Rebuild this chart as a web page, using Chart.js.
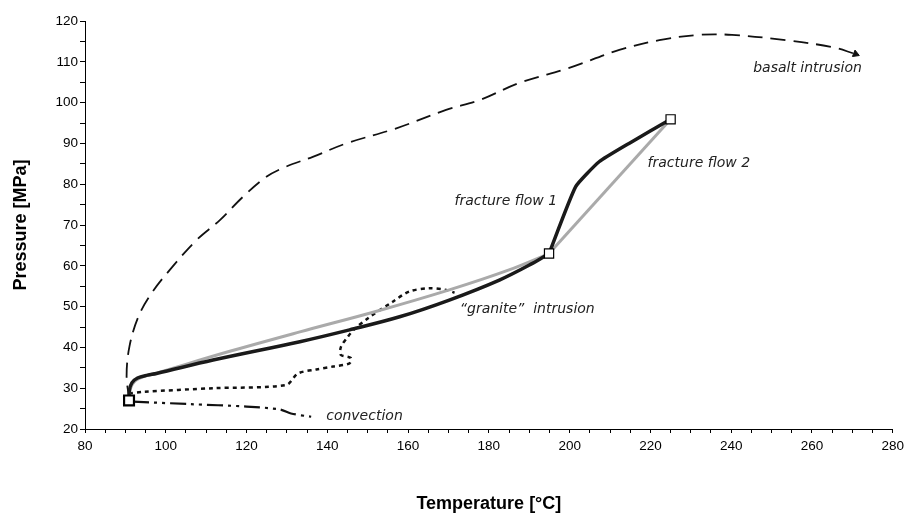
<!DOCTYPE html>
<html>
<head>
<meta charset="utf-8">
<script src="https://cdn.jsdelivr.net/npm/chart.js@4.4.1/dist/chart.umd.min.js"></script>
<style>
  html, body { margin: 0; padding: 0; background: #fff; }
  #wrap { width: 909px; height: 517px; }
</style>
</head>
<body>
<div id="wrap"><canvas id="chart"></canvas></div>
<script>
// --- data (temperature [°C], pressure [MPa]) ---
const basaltT = [91, 90.3, 91, 93.2, 96.5, 101, 107.6, 113.4, 119.1, 124.9, 129.8, 136.4, 144.7, 157.1, 169.4, 177.7, 187.5, 199.9, 212.3, 222.2, 232, 240.2, 253.5, 265, 270.8];
const basaltP = [27, 33, 40.2, 47.5, 53.3, 59, 66.3, 71.2, 76.9, 81.8, 84.3, 86.7, 90, 93.7, 98.2, 100.6, 104.8, 108.5, 112.9, 115.3, 116.6, 116.6, 115.3, 113.6, 111.9];

const graniteT = [90.9, 91.0, 91.6, 93, 95.5, 97.7, 111.7, 133.2, 145.5, 157.9, 170.2, 182.6, 190.8, 194.9];
const graniteP = [27, 29.5, 31.3, 32.5, 33.2, 33.6, 36.9, 41.4, 44.3, 47.5, 51.6, 56.5, 60.6, 63];

const flow1T = [194.9, 201.5, 207.3, 214.7, 225];
const flow1P = [63, 79.4, 85.5, 90, 95.9];

const grayT = [90.9, 91.2, 92.4, 95, 97.7, 115, 133.2, 152, 170.2, 185, 194.9];
const grayP = [27, 29.8, 31.8, 33, 33.7, 38.8, 43.8, 48.8, 54.1, 59, 63];
const flow2T = [194.9, 225];
const flow2P = [63, 95.9];

const dottedT = [90.9, 94.4, 111.7, 129.8, 132.7, 137.3, 141.4, 145.5, 145.8, 143.3, 143.4, 145, 146.5, 150, 156.2, 160.3, 165.3, 169.4, 171.5];
const dottedP = [28.7, 29.1, 30, 30.8, 33.6, 34.6, 35.3, 36.1, 37.4, 38.2, 40.2, 42.5, 44.3, 47.1, 51.2, 53.7, 54.5, 54.1, 53.4];

const convT = [91.9, 105.9, 120, 128.2, 131, 136];
const convP = [26.7, 26.1, 25.5, 24.8, 23.8, 23];

const markerT = [90.9, 194.9, 225];
const markerP = [27, 63, 95.9];

const labelText = ["basalt intrusion", "fracture flow 2", "fracture flow 1", "\u201Cgranite\u201D  intrusion", "convection"];
const labelT = [258.9, 232, 184.2, 189.5, 149.2];
const labelP = [108.5, 85.2, 75.7, 49.4, 23];

function pts(xs, ys) {
  return xs.map((x, i) => ({ x: x, y: ys[i] }));
}

// --- text labels in data coordinates ---
const labelPlugin = {
  id: "curveLabels",
  afterDatasetsDraw(chart) {
    const { ctx, scales } = chart;
    ctx.save();
    ctx.font = "italic 14px 'DejaVu Sans'";
    ctx.fillStyle = "#222";
    ctx.textAlign = "center";
    ctx.textBaseline = "middle";
    labelText.forEach((t, i) => {
      ctx.fillText(t, scales.x.getPixelForValue(labelT[i]), scales.y.getPixelForValue(labelP[i]));
    });
    ctx.restore();
  }
};

const axisFont = { family: "'Liberation Sans', Arial, sans-serif", size: 13.5 };
const titleFont = { family: "'Liberation Sans', Arial, sans-serif", size: 18, weight: "bold" };

new Chart(document.getElementById("chart"), {
  type: "scatter",
  data: {
    datasets: [
      {
        label: "markers",
        data: pts(markerT, markerP),
        showLine: false,
        pointStyle: "rect",
        pointRadius: [7, 6.5, 6.5],
        borderWidth: [2.2, 1.2, 1.2],
        borderColor: "#000",
        backgroundColor: "#fff",
        order: 0
      },
      {
        label: "granite",
        data: pts(graniteT, graniteP),
        showLine: true,
        borderColor: "#1a1a1a",
        borderWidth: 3.5,
        pointRadius: 0,
        tension: 0.35,
        order: 1
      },
      {
        label: "fracture flow 1",
        data: pts(flow1T, flow1P),
        showLine: true,
        borderColor: "#1a1a1a",
        borderWidth: 3.5,
        pointRadius: 0,
        tension: 0.15,
        order: 1
      },
      {
        label: "gray",
        data: pts(grayT, grayP),
        showLine: true,
        borderColor: "#aaaaaa",
        borderWidth: 3,
        pointRadius: 0,
        tension: 0.35,
        order: 2
      },
      {
        label: "fracture flow 2",
        data: pts(flow2T, flow2P),
        showLine: true,
        borderColor: "#aaaaaa",
        borderWidth: 3,
        pointRadius: 0,
        order: 2
      },
      {
        label: "basalt",
        data: pts(basaltT, basaltP),
        showLine: true,
        borderColor: "#111",
        borderWidth: 1.8,
        borderDash: [15, 8],
        tension: 0.35,
        pointRadius: (c) => (c.dataIndex === basaltT.length - 1 ? 4 : 0),
        pointStyle: "triangle",
        rotation: 112,
        pointBackgroundColor: "#111",
        pointBorderColor: "#111",
        pointBorderWidth: 1,
        order: 3
      },
      {
        label: "dotted",
        data: pts(dottedT, dottedP),
        showLine: true,
        borderColor: "#111",
        borderWidth: 2.5,
        borderDash: [4, 4],
        tension: 0.3,
        pointRadius: 0,
        order: 3
      },
      {
        label: "convection",
        data: pts(convT, convP),
        showLine: true,
        borderColor: "#111",
        borderWidth: 2.2,
        borderDash: [16, 5, 3, 5, 3, 5],
        tension: 0.3,
        pointRadius: 0,
        order: 3
      }
    ]
  },
  options: {
    responsive: true,
    maintainAspectRatio: false,
    animation: false,
    layout: { padding: { top: 21, right: 15, left: 0, bottom: 0 } },
    plugins: { legend: { display: false }, tooltip: { enabled: false } },
    scales: {
      x: {
        type: "linear",
        min: 80,
        max: 280,
        afterFit: (s) => { s.height = 88; },
        border: { display: true, color: "#000", width: 1 },
        grid: { display: true, drawOnChartArea: false, drawTicks: true, tickLength: 4, color: "#000" },
        ticks: {
          stepSize: 5,
          autoSkip: false,
          maxRotation: 0,
          padding: 5,
          color: "#000",
          font: axisFont,
          callback: (v) => (v % 20 === 0 ? v : "")
        },
        title: { display: true, text: "Temperature [°C]", color: "#000", font: titleFont, padding: { top: 0, bottom: 2 } }
      },
      y: {
        type: "linear",
        min: 20,
        max: 120,
        afterFit: (s) => { s.width = 85; },
        border: { display: true, color: "#000", width: 1 },
        grid: { display: true, drawOnChartArea: false, drawTicks: true, tickLength: 5, color: "#000" },
        ticks: {
          stepSize: 5,
          autoSkip: false,
          padding: 2,
          color: "#000",
          font: axisFont,
          callback: (v) => (v % 10 === 0 ? v : "")
        },
        title: { display: true, text: "Pressure [MPa]", color: "#000", font: titleFont, padding: { top: 10, bottom: 0 } }
      }
    }
  },
  plugins: [labelPlugin]
});
</script>
</body>
</html>
